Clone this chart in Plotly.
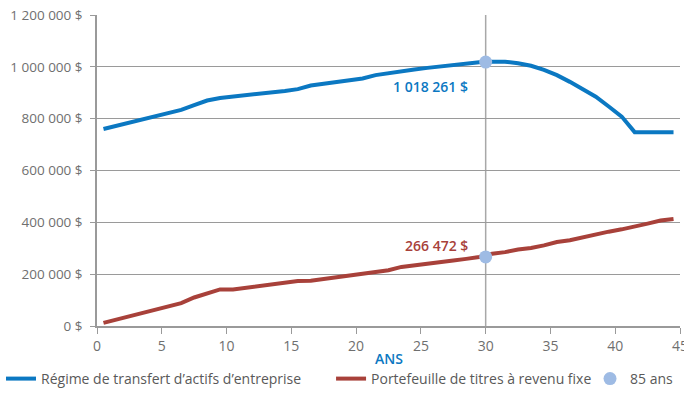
import plotly.graph_objects as go

years = [i + 0.5 for i in range(45)]
regime = [760000, 772000, 785000, 797000, 809000, 821000, 834000, 852000, 870000, 880000,
          885000, 890000, 896000, 901000, 907000, 914000, 928000, 935000, 941000, 947000,
          955000, 968000, 976000, 983000, 990000, 996000, 1002000, 1008000, 1013000, 1018000,
          1020000, 1020000, 1014000, 1004000, 988000, 968000, 942000, 915000, 885000, 847000,
          808000, 748000, 748000, 748000, 748000]
portefeuille = [12000, 25000, 38000, 50000, 62000, 75000, 88000, 110000, 124000, 141000,
                141000, 147000, 154000, 161000, 168000, 174000, 175000, 182000, 189000, 196000,
                202000, 209000, 215000, 228000, 235000, 241000, 247000, 253000, 259000, 266000,
                279000, 285000, 295000, 301000, 311000, 324000, 331000, 343000, 352000, 364000,
                373000, 383000, 395000, 407000, 413000]
mark_x = [30, 30]
mark_y = [1018261, 266472]
mark_labels = ["1 018 261 $", "266 472 $"]

y_ticks = [0, 200000, 400000, 600000, 800000, 1000000, 1200000]
y_ticktext = ["0 $", "200 000 $", "400 000 $", "600 000 $", "800 000 $", "1 000 000 $", "1 200 000 $"]
x_ticks = [0, 5, 10, 15, 20, 25, 30, 35, 40, 45]
x_title = "ANS"

BLUE = "#0B78C2"
RED = "#A8413A"
DOT = "#9EBBE4"
GRID = "#9A9A9A"
FONT = "Open Sans"

fig = go.Figure()
fig.add_trace(go.Scatter(x=years, y=regime, mode="lines", name="Régime de transfert d’actifs d’entreprise",
                         line=dict(color=BLUE, width=4), legend="legend", showlegend=True))
fig.add_trace(go.Scatter(x=years, y=portefeuille, mode="lines", name="Portefeuille de titres à revenu fixe",
                         line=dict(color=RED, width=4), legend="legend2", showlegend=True))
fig.add_trace(go.Scatter(x=mark_x, y=mark_y, mode="markers", name="85 ans",
                         marker=dict(color=DOT, size=13), legend="legend3", showlegend=True))

fig.add_shape(type="line", x0=30, x1=30, y0=0, y1=1200000, xref="x", yref="y",
              line=dict(color="#A8A8A8", width=1.5), layer="below")

fig.add_annotation(x=mark_x[0], y=mark_y[0], text=mark_labels[0], showarrow=False,
                   xanchor="right", yanchor="middle", xshift=-16, yshift=-24,
                   font=dict(family=FONT, size=14, color=BLUE, weight=600))
fig.add_annotation(x=mark_x[1], y=mark_y[1], text=mark_labels[1], showarrow=False,
                   xanchor="right", yanchor="middle", xshift=-16, yshift=11,
                   font=dict(family=FONT, size=14, color=RED, weight=600))
# x-axis title
fig.add_annotation(x=0.5, y=-0.103, xref="paper", yref="paper", text=x_title, showarrow=False,
                   xanchor="center", yanchor="middle",
                   font=dict(family=FONT, size=14, color=BLUE, weight=600))

legend_common = dict(orientation="h", yanchor="top", y=0.1103, xanchor="left",
                     xref="container", yref="container",
                     font=dict(family=FONT, size=14, color="#595959"), bgcolor="rgba(0,0,0,0)",
                     borderwidth=0)
fig.update_layout(
    width=684, height=408,
    showlegend=True,
    margin=dict(l=97, r=4, t=15, b=82, autoexpand=False),
    plot_bgcolor="white", paper_bgcolor="white",
    font=dict(family=FONT, size=14, color="#666666"),
    legend=dict(x=0.0015, **legend_common),
    legend2=dict(x=0.484, **legend_common),
    legend3=dict(x=0.8626, **legend_common),
    xaxis=dict(range=[0, 45], tickvals=x_ticks, showgrid=False, zeroline=False,
               showline=True, linecolor=GRID, linewidth=1.5, ticks="outside", ticklen=6,
               tickcolor=GRID, ticklabeloverflow="allow",
               tickfont=dict(family=FONT, size=14, color="#6F6F6F")),
    yaxis=dict(range=[0, 1200000], tickvals=y_ticks, ticktext=y_ticktext, showgrid=True,
               gridcolor=GRID, gridwidth=1.2, zeroline=False, showline=True, linecolor=GRID,
               linewidth=1.5, ticks="outside", ticklen=5, tickcolor=GRID, ticklabelstandoff=5,
               ticklabeloverflow="allow",
               tickfont=dict(family=FONT, size=13.5, color="#6F6F6F")),
)

fig.write_html("out.html", config={"displayModeBar": False},
               post_script="document.body.style.margin='0';")
